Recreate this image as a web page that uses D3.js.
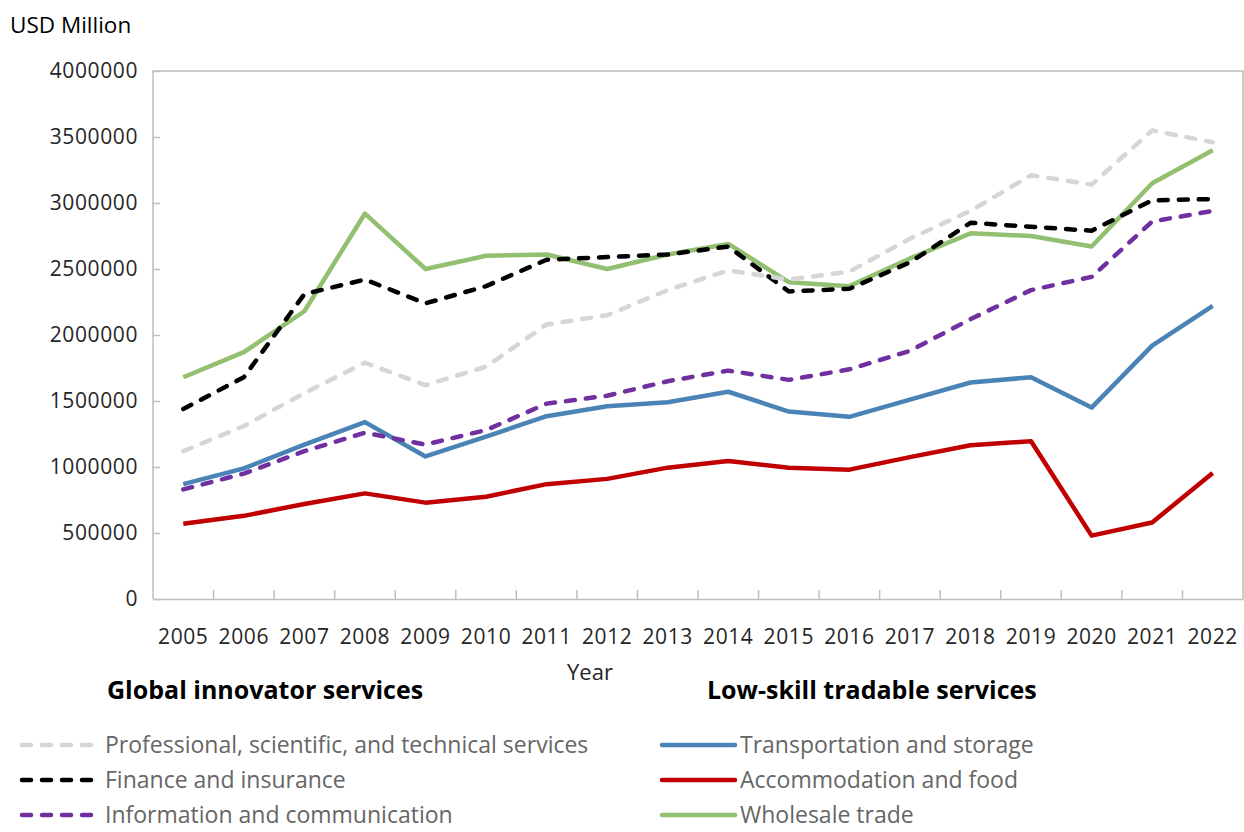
<!DOCTYPE html>
<html><head><meta charset="utf-8">
<script src="https://cdn.jsdelivr.net/npm/d3@7"></script>
<style>body{margin:0;background:#fff}svg{display:block}</style>
</head><body><svg id="c" width="1244" height="832"></svg>
<script>
const years = ["2005","2006","2007","2008","2009","2010","2011","2012","2013","2014","2015","2016","2017","2018","2019","2020","2021","2022"];
const professional = [1120000,1310000,1560000,1790000,1620000,1760000,2080000,2150000,2340000,2490000,2420000,2480000,2730000,2940000,3210000,3140000,3550000,3460000];
const finance = [1440000,1680000,2310000,2420000,2240000,2370000,2570000,2590000,2610000,2670000,2330000,2350000,2550000,2850000,2820000,2790000,3020000,3030000];
const information = [830000,950000,1120000,1260000,1170000,1280000,1480000,1540000,1650000,1730000,1660000,1740000,1880000,2120000,2340000,2440000,2860000,2940000];
const transportation = [870000,990000,1170000,1340000,1080000,1230000,1385000,1460000,1490000,1570000,1420000,1380000,1510000,1640000,1680000,1450000,1920000,2220000];
const accommodation = [570000,630000,720000,800000,730000,775000,870000,910000,995000,1045000,995000,980000,1075000,1165000,1195000,480000,580000,955000];
const wholesale = [1680000,1870000,2180000,2920000,2500000,2600000,2610000,2500000,2610000,2690000,2400000,2370000,2580000,2770000,2750000,2670000,3150000,3400000];
const yTicks = [0,500000,1000000,1500000,2000000,2500000,3000000,3500000,4000000];
const groupTitles = ["Global innovator services","Low-skill tradable services"];

const series = [
  {name:"Professional, scientific, and technical services", values:professional, color:"#d6d6d6", dash:true, col:0},
  {name:"Finance and insurance", values:finance, color:"#000000", dash:true, col:0},
  {name:"Information and communication", values:information, color:"#7030a0", dash:true, col:0},
  {name:"Transportation and storage", values:transportation, color:"#4a84b6", dash:false, col:1},
  {name:"Accommodation and food", values:accommodation, color:"#c00000", dash:false, col:1},
  {name:"Wholesale trade", values:wholesale, color:"#93bf70", dash:false, col:1}
];
const drawOrder = [5,1,0,3,4,2].map(i=>series[i]);

const svg = d3.select("#c");
const font = "'Open Sans', sans-serif";
const L = 153, R = 1243, T = 71, B = 599;
const x = d3.scaleBand().domain(years).range([L,R]).padding(0);
const y = d3.scaleLinear().domain([0,4000000]).range([B,T]);
const axisCol = "#bfbfbf";

// frame
svg.append("path").attr("d",`M${L},${B}V${T}H${R}V${B}`).attr("fill","none").attr("stroke",axisCol).attr("stroke-width",1.5);

// y axis
const ya = svg.append("g").attr("transform",`translate(${L},0)`)
  .call(d3.axisRight(y).tickValues(yTicks).tickSize(7).tickFormat(d=>""));
ya.select(".domain").remove();
ya.selectAll("line").attr("stroke",axisCol).attr("stroke-width",1.5);
svg.append("g").selectAll("text").data(yTicks).join("text")
  .attr("x",138).attr("y",d=>y(d)).attr("dy","0.35em").attr("text-anchor","end")
  .attr("font-family",font).attr("font-size",21).attr("letter-spacing",0.6).attr("fill","#262626")
  .text(d=>d3.format("d")(d));

// x axis
const xa = svg.append("g").attr("transform",`translate(0,${B})`)
  .call(d3.axisBottom(x).tickSize(0).tickFormat(""));
xa.select(".domain").attr("stroke",axisCol).attr("stroke-width",1.5);
svg.append("g").selectAll("line").data(years.slice(1)).join("line")
  .attr("x1",d=>x(d)).attr("x2",d=>x(d)).attr("y1",B).attr("y2",B-9)
  .attr("stroke",axisCol).attr("stroke-width",1.5);
svg.append("g").selectAll("text").data(years).join("text")
  .attr("x",d=>x(d)+x.bandwidth()/2).attr("y",637).attr("dy","0.35em").attr("text-anchor","middle")
  .attr("font-family",font).attr("font-size",21).attr("letter-spacing",0.6).attr("fill","#262626")
  .text(d=>d);

svg.append("text").attr("x",10).attr("y",25).attr("dy","0.35em")
  .attr("font-family",font).attr("font-size",22.5).attr("fill","#000").text("USD Million");
svg.append("text").attr("x",590).attr("y",672).attr("dy","0.35em").attr("text-anchor","middle")
  .attr("font-family",font).attr("font-size",22).attr("fill","#262626").text("Year");

// lines
const line = d3.line().x((d,i)=>x(years[i])+x.bandwidth()/2).y(d=>y(d));
svg.append("g").selectAll("path").data(drawOrder).join("path")
  .attr("d",d=>line(d.values)).attr("fill","none").attr("stroke",d=>d.color)
  .attr("stroke-width",4.5).attr("stroke-linejoin","round")
  .attr("stroke-linecap",d=>d.dash?"round":"butt")
  .attr("stroke-dasharray",d=>d.dash?"9,11":null);

// legend
const colX = [{title:107, line0:22, line1:97, text:105},{title:707, line0:662, line1:735, text:740}];
groupTitles.forEach((t,i)=>{
  svg.append("text").attr("x",colX[i].title).attr("y",690).attr("dy","0.35em")
    .attr("font-family",font).attr("font-size",25).attr("font-weight","bold").attr("fill","#000").text(t);
});
const leg = svg.append("g");
[0,1].forEach(c=>{
  const items = series.filter(s=>s.col===c);
  items.forEach((s,j)=>{
    const yy = 745 + j*35;
    leg.append("line").attr("x1",colX[c].line0).attr("x2",colX[c].line1).attr("y1",yy).attr("y2",yy)
      .attr("stroke",s.color).attr("stroke-width",4.5).attr("stroke-linecap","round")
      .attr("stroke-dasharray",s.dash?"9,11":null);
    leg.append("text").attr("x",colX[c].text).attr("y",yy).attr("dy","0.35em")
      .attr("font-family",font).attr("font-size",23).attr("fill","#666666").text(s.name);
  });
});
</script></body></html>
